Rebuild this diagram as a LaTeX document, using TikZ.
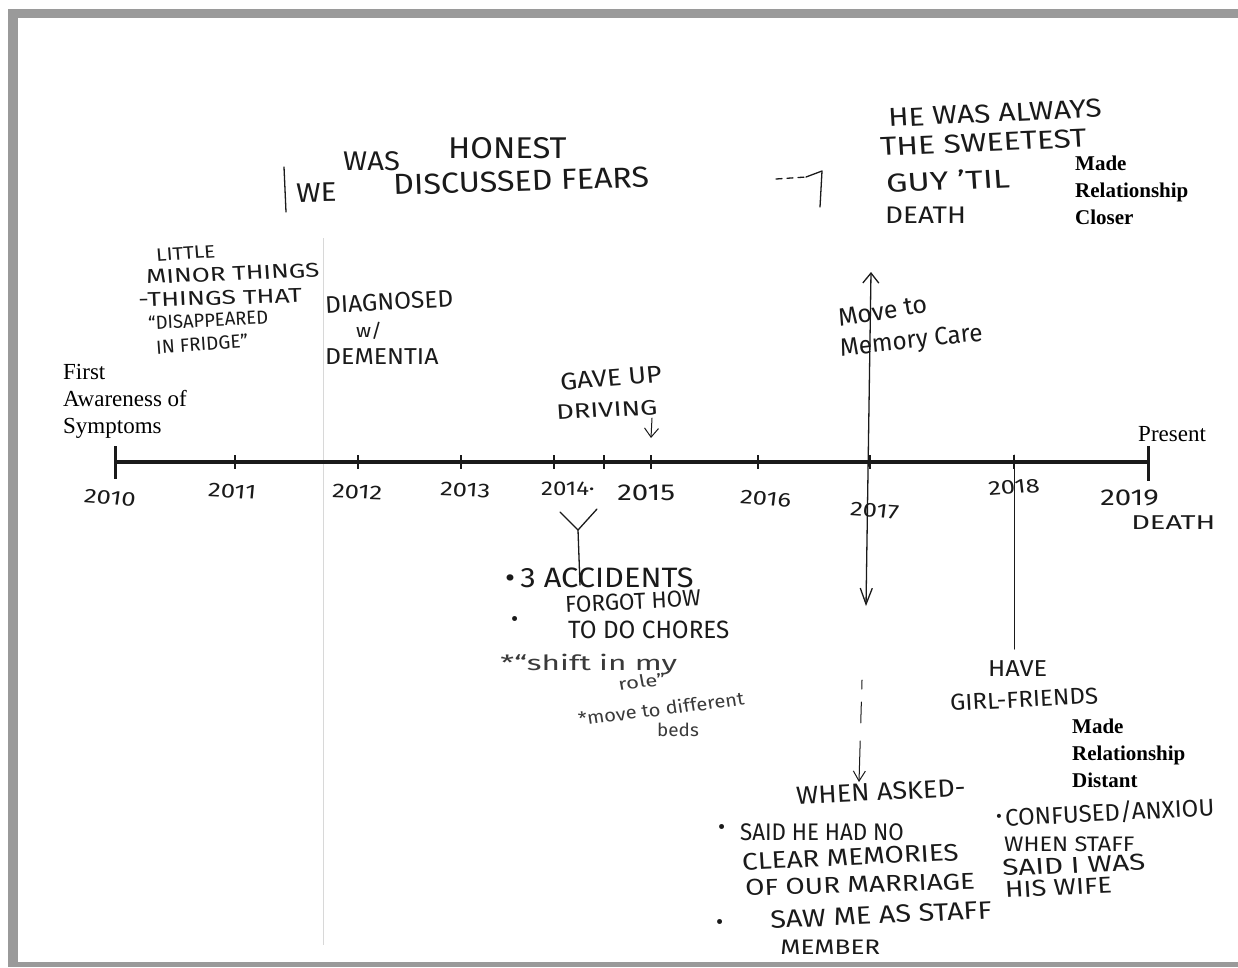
\documentclass[tikz,border=0pt]{standalone}
\usepackage{fontspec}
\setmainfont{Liberation Serif}
\newfontfamily\hand{Fira Sans}
\usetikzlibrary{arrows.meta}
\definecolor{ink}{HTML}{1A1A1A}
\definecolor{pencil}{HTML}{3A3A3A}
\definecolor{framegray}{HTML}{9A9A9A}
\definecolor{faint}{HTML}{D8D8D8}
\begin{document}
\begin{tikzpicture}[x=1pt,y=-1pt,
  pen/.style={draw=ink,line width=1.3pt,line cap=round,line join=round},
  thinpen/.style={draw=ink,line width=1pt,line cap=round,line join=round},
  hw/.style n args={2}{inner sep=0pt,anchor=west,text=ink,xscale=#2,font=\hand\fontsize{#1}{#1}\selectfont},
  pr/.style={inner sep=0pt,anchor=north west,align=left,text=black,font=\fontsize{23}{27}\selectfont},
  prb/.style={inner sep=0pt,anchor=north west,align=left,text=black,font=\bfseries\fontsize{21}{27}\selectfont},
  tick/.style={draw=ink,line width=1.6pt},
  endtick/.style={draw=ink,line width=3pt},
  barb/.style={-{Straight Barb[length=9pt,width=14pt]}}
]
\useasboundingbox (0,0) rectangle (1238,967);
\fill[white] (0,0) rectangle (1238,967);
% frame of the scan
\fill[framegray] (8,9) rectangle (18,967);
\fill[framegray] (8,9) rectangle (1238,18);
\fill[framegray] (8,962) rectangle (1238,967);
% faint fold line
\draw[faint,line width=0.8pt] (323,238) -- (323,945);

% axis
\coordinate (a0) at (115,462);
\coordinate (a9) at (1148,462);
\draw[draw=ink,line width=3.5pt] (a0) -- (a9);
\draw[endtick] (115,446) -- (115,479);
\draw[endtick] (1148,446) -- (1148,481);
\foreach \x in {235,358,461,554,604,651,758,870,1014}
  \draw[tick] (\x,455) -- (\x,469);

% year labels
\node[hw={20}{1.28},rotate=-6] (y2010) at (84,496) {2010};
\node[hw={20}{1.28},rotate=-4] (y2011) at (208,490) {2011};
\node[hw={20}{1.28},rotate=-3] (y2012) at (332,491) {2012};
\node[hw={20}{1.28},rotate=-3] (y2013) at (440,489) {2013};
\node[hw={20}{1.2}] (y2014) at (541,489) {2014·};
\node[hw={23}{1.28}] (y2015) at (617,493) {2015};
\node[hw={20}{1.28},rotate=-5] (y2016) at (740,497) {2016};
\node[hw={20}{1.28},rotate=-5] (y2017) at (850,509) {2017};
\node[hw={20}{1.28},rotate=5] (y2018) at (988,489) {2018};
\node[hw={23}{1.28}] (y2019) at (1100,498) {2019};
\node[hw={20}{1.45}] (ydeath) at (1131,523) {DEATH};

% printed labels
\node[pr] (first) at (63,364) {First\\Awareness of\\Symptoms};
\node[pr,anchor=west] (present) at (1138,434) {Present};
\node[prb] (closer) at (1075,156) {Made\\Relationship\\Closer};
\node[prb] (distant) at (1072,719) {Made\\Relationship\\Distant};

% top handwriting
\node[hw={27}{1.08}] (was) at (343,161) {WAS};
\node[hw={30}{1.09}] (honest) at (448,148) {HONEST};
\node[hw={27}{1.1},rotate=1] (we) at (296,193) {WE};
\node[hw={29}{1.11},rotate=2] (fears) at (393,185) {DISCUSSED FEARS};
\draw[pen] (284,167) -- (286,212);
\draw[pen,dash pattern=on 6pt off 5pt] (776,179) -- (806,177);
\draw[pen] (806,177) -- (822,171) -- (820,207);

\node[hw={26}{1.15},rotate=3] (he1) at (888,118) {HE WAS ALWAYS};
\node[hw={26}{1.22},rotate=3] (he2) at (880,147) {THE SWEETEST};
\node[hw={26}{1.3},rotate=3] (he3) at (886,183) {GUY ’TIL};
\node[hw={24}{1.16}] (he4) at (885,215) {DEATH};

% early symptoms
\node[hw={18}{1.15},rotate=4] (l1) at (156,255) {LITTLE};
\node[hw={20}{1.3},rotate=3] (l2) at (146,277) {MINOR THINGS};
\node[hw={20}{1.32},rotate=2] (l3) at (138,300) {-THINGS THAT};
\node[hw={19}{0.97},rotate=3] (l4) at (148,323) {“DISAPPEARED};
\node[hw={19}{1.0},rotate=4] (l5) at (156,347) {IN FRIDGE”};

\node[hw={24}{1.02},rotate=3] (d1) at (325,305) {DIAGNOSED};
\node[hw={19}{1.1}] (d2) at (356,331) {w/};
\node[hw={23}{1.08}] (d3) at (325,357) {DEMENTIA};

% gave up driving
\node[hw={24}{1.12},rotate=5] (g1) at (560,382) {GAVE UP};
\node[hw={21}{1.3},rotate=3] (g2) at (556,412) {DRIVING};
\coordinate (drvA) at (652,418);
\coordinate (drvB) at (651,438);
\draw[thinpen,barb] (drvA) -- (drvB);

% memory care
\node[hw={25}{1.0},rotate=9] (m1) at (838,318) {Move to};
\node[hw={25}{0.97},rotate=6] (m2) at (840,350) {Memory Care};
\coordinate (mcTop) at (871,272);
\coordinate (mcBot) at (866,606);
\draw[pen,{Straight Barb[length=10pt,width=16pt]}-{Straight Barb[length=16pt,width=12pt]}] (mcTop) -- (mcBot);

% 2014 events
\coordinate (yl) at (560,512);
\coordinate (yr) at (597,509);
\coordinate (yc) at (578,530);
\coordinate (yb) at (580,585);
\draw[pen] (yl) -- (yc) -- (yr);
\draw[pen] (yc) -- (yb);
\node[hw={28}{1.1}] (acc) at (505,578) {•\,3 ACCIDENTS};
\node[hw={22}{1}] (b2) at (511,621) {•};
\node[hw={23}{0.98},rotate=3] (f1) at (565,605) {FORGOT HOW};
\node[hw={25}{0.97}] (f2) at (568,630) {TO DO CHORES};
\node[hw={21}{1.5},text=pencil] (s1) at (500,665) {*“shift in my};
\node[hw={17}{1.3},text=pencil,rotate=8] (s2) at (618,684) {role”};
\node[hw={18}{1.12},text=pencil,rotate=8] (s3) at (578,719) {*move to different};
\node[hw={18}{1.05},text=pencil] (s4) at (657,730) {beds};

% 2018 events
\coordinate (g18a) at (1014,455);
\coordinate (g18b) at (1014,649);
\draw[thinpen] (g18a) -- (g18b);
\node[hw={23}{1.1}] (have) at (988,669) {HAVE};
\node[hw={23}{1.05},rotate=3] (gf) at (950,703) {GIRL-FRIENDS};

% when asked
\coordinate (da) at (862,680);
\coordinate (db) at (859,782);
\draw[thinpen,dash pattern=on 9pt off 13pt on 21pt off 18pt on 60pt,-{Straight Barb[length=10pt,width=12pt]}] (da) -- (db);
\node[hw={25}{1.08},rotate=3] (asked) at (796,796) {WHEN ASKED-};
\node[hw={22}{1}] (b3) at (718,829) {•};
\node[hw={24}{0.93}] (w1) at (740,832) {SAID HE HAD NO};
\node[hw={24}{1.16},rotate=3] (w2) at (742,862) {CLEAR MEMORIES};
\node[hw={23}{1.21},rotate=2] (w3) at (745,888) {OF OUR MARRIAGE};
\node[hw={22}{1}] (b4) at (716,924) {•};
\node[hw={25}{1.15},rotate=3] (w4) at (770,920) {SAW ME AS STAFF};
\node[hw={21}{1.24}] (w5) at (780,947) {MEMBER};

\node[hw={18}{1}] (b5) at (996,818) {•};
\node[hw={24}{1.0},rotate=3] (c1) at (1005,818) {CONFUSED/ANXIOU};
\node[hw={21}{1.12}] (c2) at (1004,844) {WHEN STAFF};
\node[hw={23}{1.29},rotate=3] (c3) at (1002,868) {SAID I WAS};
\node[hw={23}{1.18},rotate=3] (c4) at (1005,890) {HIS WIFE};
\end{tikzpicture}
\end{document}
